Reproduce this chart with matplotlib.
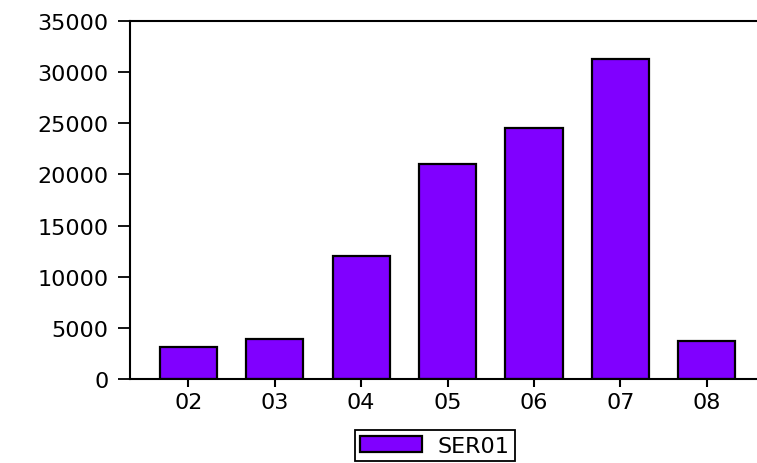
import numpy as np
import matplotlib.pyplot as plt

# data
categories = ["02", "03", "04", "05", "06", "07", "08"]
ser01 = [3130, 3910, 12000, 21020, 24540, 31300, 3750]
yticks = [0, 5000, 10000, 15000, 20000, 25000, 30000, 35000]

plt.rcParams['font.family'] = ['DejaVu Sans']

fig = plt.figure(figsize=(7.57, 4.64), dpi=100)
ax = fig.add_axes([0.1717, 0.181, 0.8283, 0.7716])

x = np.arange(len(categories))
ax.bar(x, ser01, width=0.66, color="#8000ff", edgecolor="black",
       linewidth=1.6, label="SER01")

ax.set_xlim(-0.674, 6.58)
ax.set_ylim(0, 35000)
ax.set_xticks(x)
ax.set_xticklabels(categories)
ax.set_yticks(yticks)
ax.set_yticklabels([str(v) for v in yticks])

for s in ["left", "top", "bottom"]:
    ax.spines[s].set_linewidth(1.5)
    ax.spines[s].set_color("black")
ax.spines["right"].set_visible(False)

ax.tick_params(axis="y", direction="out", length=8.5, width=1.3, pad=7,
               labelsize=16, colors="black")
ax.tick_params(axis="x", direction="out", length=6, width=1.5, pad=3,
               labelsize=16, colors="black")

leg = fig.legend(loc="upper center", bbox_to_anchor=(435 / 757, 1 - 431 / 464),
                 frameon=True, fancybox=False, edgecolor="black", framealpha=1,
                 fontsize=16, handlelength=2.8, handleheight=0.75,
                 borderpad=0.25, handletextpad=0.7, borderaxespad=0)
leg.get_frame().set_linewidth(1.3)

fig.savefig("out.png", dpi=100)
